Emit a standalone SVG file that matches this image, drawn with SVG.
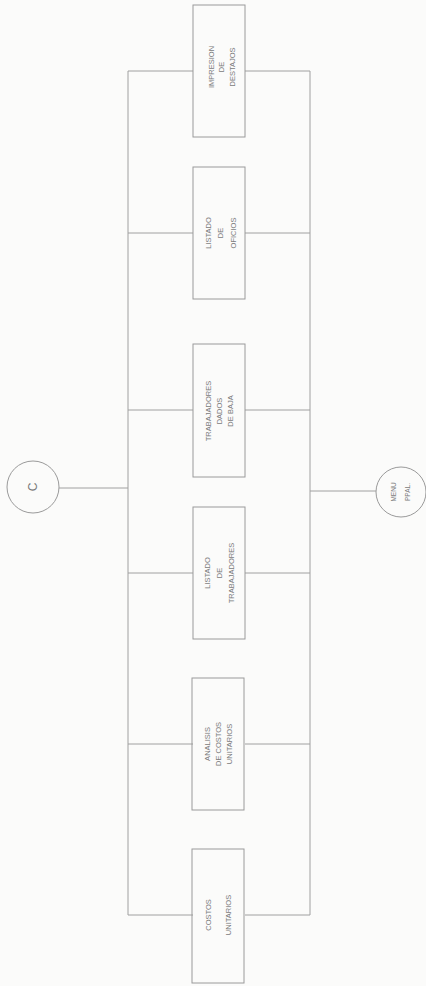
<svg xmlns="http://www.w3.org/2000/svg" width="426" height="986" viewBox="0 0 426 986">
<style>
.box{fill:none;stroke:#9a9a9a;stroke-width:1}
.ln{fill:none;stroke:#a0a0a0;stroke-width:1}
.t{font-family:"Liberation Sans",Arial,sans-serif;font-size:7.5px;fill:#7a7a7a;text-anchor:middle;dominant-baseline:central}
</style>
<rect width="426" height="986" fill="#fbfbfa"/>
<g id="connectors">
<path class="ln" d="M128,71 V915 M310,71 V915"/>
<path class="ln" d="M128,71 H193 M245,71 H310"/>
<path class="ln" d="M128,233 H193 M245,233 H310"/>
<path class="ln" d="M128,410 H193 M245,410 H310"/>
<path class="ln" d="M128,573 H193 M245,573 H310"/>
<path class="ln" d="M128,744 H193 M245,744 H310"/>
<path class="ln" d="M128,915 H193 M245,915 H310"/>
<path class="ln" d="M59,488 H128"/>
<path class="ln" d="M310,491 H376"/>
</g>
<g id="c">
<circle class="box" cx="33" cy="487" r="26"/>
<text class="t" style="font-size:12px" transform="translate(33,487) rotate(-90)">C</text>
</g>
<g id="menu">
<circle class="box" cx="401" cy="492" r="25"/>
<g transform="translate(400,492) rotate(-90)">
<text class="t" style="font-size:6.5px" y="-7">MENU</text>
<text class="t" style="font-size:6.5px" y="7">PPAL.</text>
</g>
</g>
<g id="impresion">
<rect class="box" x="193" y="5" width="52" height="132"/>
<g transform="translate(220,67) rotate(-90)">
<text class="t" y="-9">IMPRESION</text>
<text class="t" y="1">DE</text>
<text class="t" y="12">DESTAJOS</text>
</g>
</g>
<g id="oficios">
<rect class="box" x="193" y="167" width="52" height="132"/>
<g transform="translate(220,233) rotate(-90)">
<text class="t" y="-12">LISTADO</text>
<text class="t" y="0">DE</text>
<text class="t" y="13">OFICIOS</text>
</g>
</g>
<g id="bajas">
<rect class="box" x="193" y="344" width="52" height="133"/>
<g transform="translate(219,411) rotate(-90)">
<text class="t" y="-11">TRABAJADORES</text>
<text class="t" y="0">DADOS</text>
<text class="t" y="11">DE BAJA</text>
</g>
</g>
<g id="trabajadores">
<rect class="box" x="193" y="507" width="52" height="132"/>
<g transform="translate(219,573) rotate(-90)">
<text class="t" y="-12">LISTADO</text>
<text class="t" y="0">DE</text>
<text class="t" y="12">TRABAJADORES</text>
</g>
</g>
<g id="analisis">
<rect class="box" x="192" y="678" width="52" height="132"/>
<g transform="translate(218,744) rotate(-90)">
<text class="t" y="-11">ANALISIS</text>
<text class="t" y="0">DE COSTOS</text>
<text class="t" y="11">UNITARIOS</text>
</g>
</g>
<g id="costos">
<rect class="box" x="192" y="849" width="52" height="134"/>
<g transform="translate(218,915) rotate(-90)">
<text class="t" y="-10">COSTOS</text>
<text class="t" y="10">UNITARIOS</text>
</g>
</g>
</svg>
